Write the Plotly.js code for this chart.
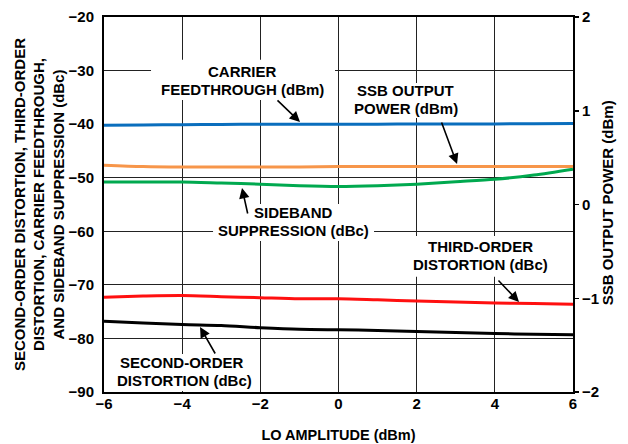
<!DOCTYPE html>
<html><head><meta charset="utf-8">
<script src="https://cdn.plot.ly/plotly-3.0.1.min.js"></script>
<style>html,body{margin:0;padding:0;background:#fff}#chart{width:628px;height:444px}</style>
</head><body><div id="chart"></div>
<script>
const loAmplitude = [-6,-5,-4,-3,-2,-1,0,1,2,3,4,5,6];
const carrierFeedthrough = [-40.2,-40.15,-40.1,-40.05,-40.0,-40.0,-40.0,-40.0,-39.97,-39.95,-39.95,-39.92,-39.9];
const ssbOutputPower = [0.42,0.405,0.40,0.40,0.40,0.40,0.405,0.405,0.405,0.405,0.405,0.405,0.405];
const sidebandSuppression = [-50.8,-50.8,-50.8,-51.0,-51.2,-51.5,-51.65,-51.5,-51.2,-50.75,-50.3,-49.5,-48.4];
const thirdOrder = [-72.3,-72.1,-72.0,-72.2,-72.4,-72.6,-72.6,-72.8,-73.0,-73.2,-73.4,-73.5,-73.6];
const secondOrder = [-76.8,-77.1,-77.4,-77.6,-78.0,-78.3,-78.4,-78.5,-78.7,-78.9,-79.1,-79.2,-79.3];

const FONT = 'Liberation Sans, Arial, Helvetica, sans-serif';
const f = (s)=>({family:FONT,size:s,color:'#000',weight:700});

function tr(y, color, axis){
  return {x:loAmplitude, y:y, type:'scatter', mode:'lines', yaxis:axis||'y',
    line:{color:color,width:3,shape:'spline',smoothing:0.8}, hoverinfo:'skip', showlegend:false};
}
const data = [
  tr(carrierFeedthrough,'#0a6ebd'),
  tr(ssbOutputPower,'#f7964a','y2'),
  tr(sidebandSuppression,'#00a94f'),
  tr(thirdOrder,'#ff1010'),
  tr(secondOrder,'#000000')
];

function txt(x,y,t){return {x:x,y:y,xref:'x',yref:'y',text:t,showarrow:false,font:f(15),xanchor:'center',yanchor:'middle'};}
function arr(x,y,ax,ay){return {x:x,y:y,xref:'x',yref:'y',text:'',showarrow:true,ax:ax,ay:ay,
  arrowhead:2,arrowsize:1.3,arrowwidth:1.6,arrowcolor:'#000',standoff:0,startstandoff:0};}
function box(x0,x1,y0,y1){return {type:'rect',xref:'x',yref:'y',x0:x0,x1:x1,y0:y0,y1:y1,
  fillcolor:'#fff',line:{width:0},layer:'above'};}

const annotations = [
  txt(-2.469,-30.08,'CARRIER'), txt(-2.469,-33.44,'FEEDTHROUGH (dBm)'),
  txt(1.71,-33.81,'SSB OUTPUT'), txt(1.72,-37.17,'POWER (dBm)'),
  txt(-1.146,-56.49,'SIDEBAND'), txt(-1.146,-59.85,'SUPPRESSION (dBc)'),
  txt(3.621,-62.84,'THIRD-ORDER'), txt(3.621,-66.2,'DISTORTION (dBc)'),
  txt(-4.012,-84.4,'SECOND-ORDER'), txt(-3.95,-87.76,'DISTORTION (dBc)'),
  arr(-0.985,-39.6,-24,-23),
  arr(3.033,-47.44,-16,-43),
  arr(-2.469,-51.92,6,27),
  arr(4.619,-73.2,-22,-23),
  arr(-3.543,-77.87,16,28),
  {xref:'paper', yref:'paper', x:1.074, y:0.505, xanchor:'center', yanchor:'middle',
   text:'SSB OUTPUT POWER (dBm)', textangle:-90, showarrow:false, font:f(15)}
];
const shapes = [
  box(-4.797,-0.089,-28.0,-35.5),
  box(0.30,3.135,-32.3,-38.85),
  box(-3.21,0.909,-54.9,-61.8),
  box(1.70,5.54,-60.9,-68.5),
  box(-5.95,-2.06,-82.9,-89.8)
];

const layout = {
  width:628, height:444,
  margin:{l:104,r:55,t:17,b:52,autoexpand:false},
  paper_bgcolor:'#fff', plot_bgcolor:'#fff',
  font:f(15),
  showlegend:false,
  xaxis:{range:[-6,6], dtick:2, tick0:-6, showgrid:true, gridcolor:'#222', gridwidth:1.2,
    zeroline:false, showline:true, mirror:true, linecolor:'#000', linewidth:2,
    ticks:'', ticklabelstandoff:-3, tickfont:f(15), automargin:true,
    title:{text:'LO AMPLITUDE (dBm)', font:f(14.5), standoff:19}},
  yaxis:{range:[-90,-20], dtick:10, tick0:-90, showgrid:true, gridcolor:'#222', gridwidth:1.2,
    zeroline:false, showline:true, mirror:true, linecolor:'#000', linewidth:2,
    ticks:'outside', ticklen:5, tickcolor:'rgba(0,0,0,0)', tickfont:f(15),
    title:{text:'SECOND-ORDER DISTORTION, THIRD-ORDER<br>DISTORTION, CARRIER FEEDTHROUGH,<br>AND SIDEBAND SUPPRESSION (dBc)', font:f(15)}},
  yaxis2:{range:[-2,2], dtick:1, tick0:-2, overlaying:'y', side:'right', showgrid:false,
    zeroline:false, showline:true, linecolor:'#000', linewidth:2,
    ticks:'outside', ticklen:4, tickwidth:1.5, tickcolor:'#000', tickfont:f(15)},
  annotations:annotations,
  shapes:shapes
};
Plotly.newPlot('chart', data, layout, {staticPlot:true, displayModeBar:false});
</script></body></html>
